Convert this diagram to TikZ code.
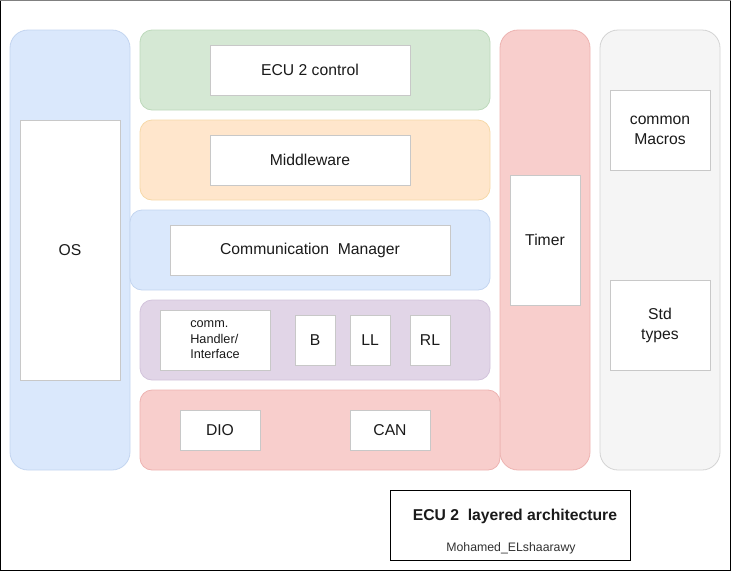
\documentclass[tikz,border=0pt]{standalone}
\usepackage{fontspec}
\setmainfont{Liberation Sans}
\definecolor{blueF}{HTML}{DAE8FC}
\definecolor{blueD}{HTML}{C3D5F0}
\definecolor{greenF}{HTML}{D5E8D4}
\definecolor{greenD}{HTML}{BDD9BB}
\definecolor{orangeF}{HTML}{FFE6CC}
\definecolor{orangeD}{HTML}{F6D8A8}
\definecolor{purpleF}{HTML}{E1D5E7}
\definecolor{purpleD}{HTML}{D2C3DB}
\definecolor{redF}{HTML}{F8CECC}
\definecolor{redD}{HTML}{EDB3B1}
\definecolor{grayF}{HTML}{F5F5F5}
\definecolor{grayD}{HTML}{D3D3D3}
\definecolor{boxD}{HTML}{C8C8C8}
\definecolor{txt}{HTML}{1A1A1A}
\begin{document}
\begin{tikzpicture}[x=1pt,y=-1pt,
    layer/.style={draw,rounded corners=12pt,line width=0.8pt,inner sep=0pt},
    column/.style={layer,rounded corners=18pt,minimum width=#1,minimum height=440pt},
    box/.style={draw=boxD,fill=white,line width=0.8pt,inner sep=0pt,text=txt,
        font=\fontsize{15.7}{20}\selectfont,align=center},
    small/.style={font=\fontsize{12.7}{15.5}\selectfont}]
\useasboundingbox (0,0) rectangle (731,571);
\draw[line width=1.2pt] (0.6,0.6) rectangle (730.4,570.4);
\draw[line width=1.2pt,gray] (0,0.6) -- (731,0.6);
% columns
\node[column=120pt,fill=blueF,draw=blueD](oscol) at (70,250){};
\node[column=90pt,fill=redF,draw=redD](timercol) at (545,250){};
\node[column=120pt,fill=grayF,draw=grayD](stdcol) at (660,250){};
\node[box,minimum width=100pt,minimum height=260pt](os) at (70,250){OS};
\node[box,minimum width=70pt,minimum height=130pt](timer) at (545,240){Timer};
\node[box,minimum width=100pt,minimum height=80pt](macros) at (660,130){common\\Macros};
\node[box,minimum width=100pt,minimum height=90pt](types) at (660,325){Std\\types};
% layers
\node[layer,fill=greenF,draw=greenD,minimum width=350pt,minimum height=80pt](app) at (315,70){};
\node[layer,fill=orangeF,draw=orangeD,minimum width=350pt,minimum height=80pt](mw) at (315,160){};
\node[layer,fill=blueF,draw=blueD,minimum width=360pt,minimum height=80pt](com) at (310,250){};
\node[layer,fill=purpleF,draw=purpleD,minimum width=350pt,minimum height=80pt](hal) at (315,340){};
\node[layer,fill=redF,draw=redD,minimum width=360pt,minimum height=80pt](mcal) at (320,430){};
\node[box,minimum width=200pt,minimum height=50pt](ctrl) at (310,70){ECU 2 control};
\node[box,minimum width=200pt,minimum height=50pt](middle) at (310,160){Middleware};
\node[box,minimum width=280pt,minimum height=50pt](comm) at (310,250){Communication\ \ Manager};
\node[box,small,align=left,minimum width=110pt,minimum height=60pt](handler) at (215,340){comm.\\Handler/\\Interface};
\node[box,minimum width=40pt,minimum height=50pt](b) at (315,340){B};
\node[box,minimum width=40pt,minimum height=50pt](ll) at (370,340){LL};
\node[box,minimum width=40pt,minimum height=50pt](rl) at (430,340){RL};
\node[box,minimum width=80pt,minimum height=40pt](dio) at (220,430){DIO};
\node[box,minimum width=80pt,minimum height=40pt](can) at (390,430){CAN};
% title
\node[draw,line width=1pt,minimum width=240pt,minimum height=70pt](titlebox) at (510,525){};
\node[font=\bfseries\fontsize{15.7}{19}\selectfont,text=txt](title) at (515,516){ECU 2\ \ layered architecture};
\node[font=\fontsize{12.3}{14}\selectfont,text=txt!90](author) at (511,548){Mohamed\_ELshaarawy};
\end{tikzpicture}
\end{document}
